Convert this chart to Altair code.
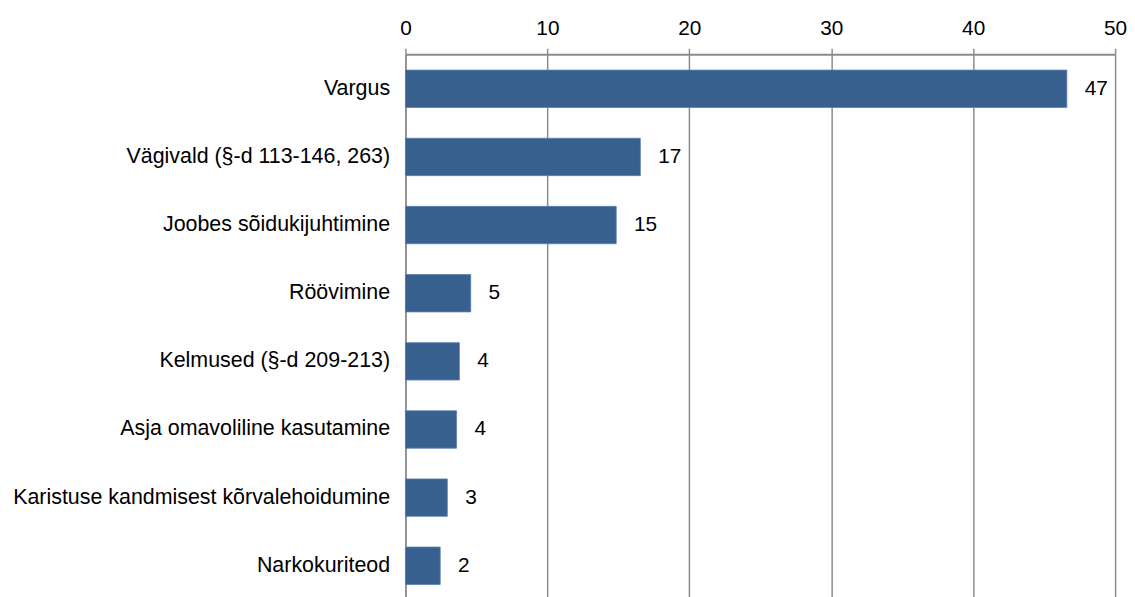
import altair as alt
import pandas as pd

categories = [
    "Vargus",
    "Vägivald (§-d 113-146, 263)",
    "Joobes sõidukijuhtimine",
    "Röövimine",
    "Kelmused (§-d 209-213)",
    "Asja omavoliline kasutamine",
    "Karistuse kandmisest kõrvalehoidumine",
    "Narkokuriteod",
]
values = [46.6, 16.55, 14.85, 4.6, 3.8, 3.6, 2.95, 2.45]
labels = ["47", "17", "15", "5", "4", "4", "3", "2"]

df = pd.DataFrame({"cat": categories, "val": values, "lab": labels})

FONT = "Liberation Sans"
GRID = "#8c8c8c"

x_enc = alt.X(
    "val:Q",
    scale=alt.Scale(domain=[0, 50], nice=False),
    axis=alt.Axis(
        orient="top",
        values=[0, 10, 20, 30, 40, 50],
        title=None,
        grid=True,
        gridColor=GRID,
        gridWidth=1.5,
        domainColor=GRID,
        domainWidth=2,
        tickColor=GRID,
        tickWidth=1.5,
        tickSize=6,
        labelPadding=10,
        labelFont=FONT,
        labelFontSize=21,
        labelColor="#000000",
        labelFlush=False,
    ),
)
y_enc = alt.Y(
    "cat:N",
    sort=categories,
    scale=alt.Scale(paddingInner=0.451, paddingOuter=0.233, range=[0, 551]),
    axis=alt.Axis(
        title=None,
        ticks=False,
        domainColor=GRID,
        domainWidth=1.5,
        labelPadding=16,
        labelFont=FONT,
        labelFontSize=21.6,
        labelColor="#000000",
        labelLimit=600,
    ),
)

bars = alt.Chart(df).mark_bar(color="#37608f", stroke="#5a80b0", strokeWidth=0.8).encode(x=x_enc, y=y_enc)
text = alt.Chart(df).mark_text(align="left", baseline="middle", dx=18, font=FONT, fontSize=21, color="#000000").encode(
    x="val:Q", y=alt.Y("cat:N", sort=categories), text="lab:N"
)

chart = (
    alt.layer(bars, text)
    .properties(
        width=716,
        height=545,
        autosize=alt.AutoSizeParams(type="none"),
        padding={"left": 401, "top": 44, "right": 12, "bottom": 0},
    )
    .configure_view(stroke=None)
)

chart.save("out.html", embed_options={"renderer": "svg", "actions": False})
